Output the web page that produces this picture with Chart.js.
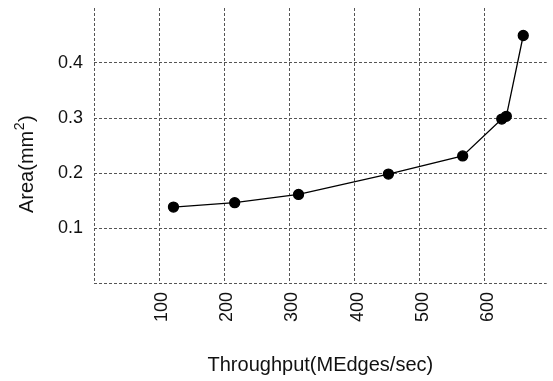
<!DOCTYPE html>
<html>
<head>
<meta charset="utf-8">
<script src="https://cdn.jsdelivr.net/npm/chart.js@4"></script>
<style>
  html, body { margin: 0; padding: 0; background: #fff; overflow: hidden; }
  #wrap { width: 553px; height: 381px; position: relative; }
</style>
</head>
<body>
<div id="wrap"><canvas id="areaChart"></canvas></div>
<script>
const throughput = [122, 216, 314, 452, 566, 626, 633, 659];
const area = [0.138, 0.146, 0.161, 0.198, 0.231, 0.298, 0.303, 0.450];
const xTicks = [100, 200, 300, 400, 500, 600];
const yTicks = [0.1, 0.2, 0.3, 0.4];

const FONT = '"Liberation Sans", Arial, Helvetica, sans-serif';
const gridColor = '#555';

// y title with a superscript 2, drawn by hand
const yTitle = {
  id: 'yTitle',
  afterDraw(chart) {
    const c = chart.ctx;
    c.save();
    c.translate(33, 213);
    c.rotate(-Math.PI / 2);
    c.fillStyle = '#111';
    c.textBaseline = 'alphabetic';
    c.textAlign = 'left';
    c.font = '20px ' + FONT;
    const base = 'Area(mm';
    c.fillText(base, 0, 0);
    let w = c.measureText(base).width;
    c.font = '14px ' + FONT;
    c.fillText('2', w + 0.5, -9);
    w += c.measureText('2').width + 1;
    c.font = '20px ' + FONT;
    c.fillText(')', w, 0);
    c.restore();
  }
};

const isTick = (list, v) => list.some(t => Math.abs(t - v) < 1e-6);

new Chart(document.getElementById('areaChart').getContext('2d'), {
  type: 'scatter',
  data: {
    datasets: [{
      data: throughput.map((x, i) => ({ x: x, y: area[i] })),
      showLine: true,
      borderColor: '#000',
      borderWidth: 1.3,
      backgroundColor: '#000',
      pointBackgroundColor: '#000',
      pointBorderColor: '#000',
      pointRadius: 5,
      tension: 0
    }]
  },
  options: {
    responsive: true,
    maintainAspectRatio: false,
    animation: false,
    layout: { padding: { top: 8, left: 0, right: 0, bottom: 0 } },
    plugins: { legend: { display: false }, tooltip: { enabled: false } },
    scales: {
      x: {
        type: 'linear',
        min: 0,
        max: 695,
        border: { display: false, dash: [3, 2] },
        grid: {
          drawTicks: false,
          color: gridColor,
          lineWidth: 1
        },
        afterBuildTicks(scale) {
          scale.ticks = [0].concat(xTicks).map(v => ({ value: v }));
        },
        ticks: {
          autoSkip: false,
          minRotation: 90,
          maxRotation: 90,
          padding: 9,
          labelOffset: 3,
          color: '#111',
          font: { family: FONT, size: 18 },
          callback: v => isTick(xTicks, v) ? String(v) : ''
        },
        title: {
          display: true,
          text: 'Throughput(MEdges/sec)',
          color: '#111',
          font: { family: FONT, size: 20 },
          padding: { top: 0, bottom: 4 }
        },
        afterFit(scale) {
          scale.height = 98;
          scale.paddingLeft = 0;
          scale.paddingRight = 0;
        }
      },
      y: {
        min: 0,
        max: 0.5,
        border: { display: false, dash: [3, 2] },
        grid: {
          drawTicks: false,
          color: gridColor,
          lineWidth: 1
        },
        afterBuildTicks(scale) {
          scale.ticks = [0].concat(yTicks).map(v => ({ value: v }));
        },
        ticks: {
          autoSkip: false,
          padding: 11,
          color: '#111',
          font: { family: FONT, size: 18 },
          callback: v => isTick(yTicks, v) ? v.toFixed(1) : ''
        },
        afterFit(scale) {
          scale.width = 94;
          scale.paddingTop = 0;
          scale.paddingBottom = 0;
        }
      }
    }
  },
  plugins: [yTitle]
});
</script>
</body>
</html>
